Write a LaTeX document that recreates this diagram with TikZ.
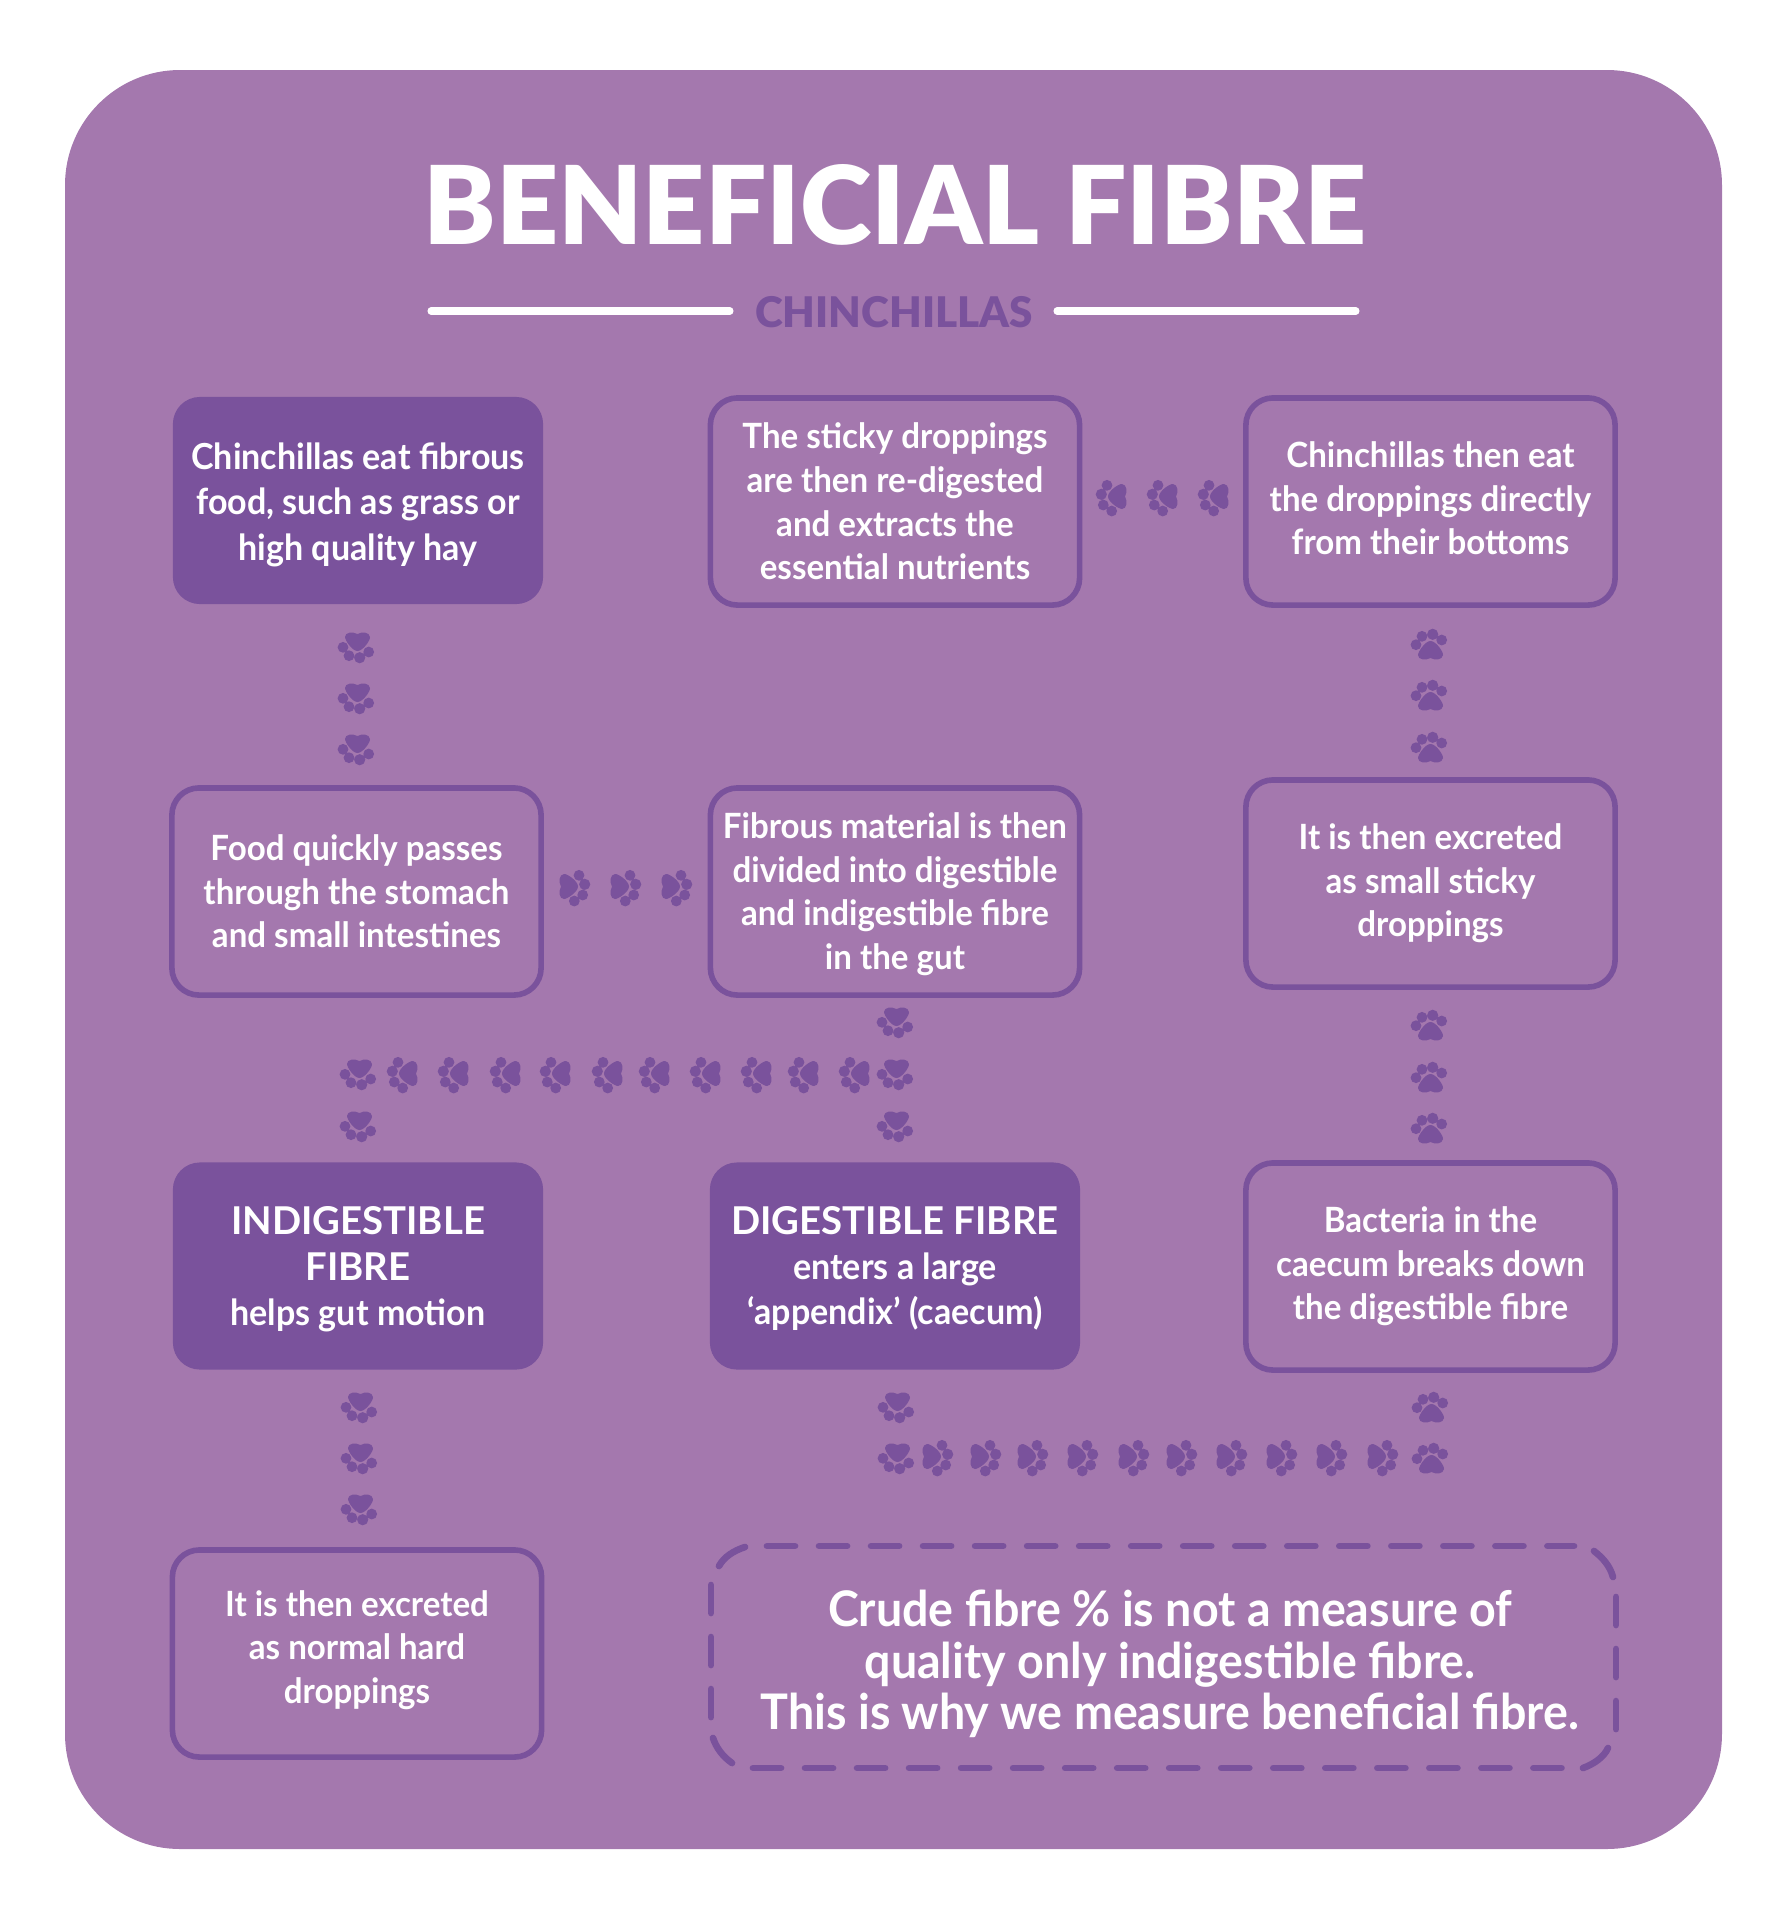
\documentclass[tikz,border=0pt]{standalone}
\usepackage{fontspec}
\setmainfont[FakeStretch=0.95]{Lato}
\newfontfamily\heavyfont{Lato Black}
\usetikzlibrary{calc}
\definecolor{panelpurple}{HTML}{A478AE}
\definecolor{darkpurple}{HTML}{7A529C}
\newcommand{\headsize}{\heavyfont\fontsize{10.9pt}{12.9pt}\selectfont}
\newcommand{\bodysize}{\normalfont\bfseries\fontsize{9.9pt}{12.4pt}\selectfont}
\newcommand{\solidsize}{\normalfont\bfseries\fontsize{10.2pt}{12.9pt}\selectfont}

\begin{document}
\begin{tikzpicture}[
    x=0.01cm, y=-0.01cm, % One unit is one pixel of the reference
    textbox/.style={rounded corners=0.27cm, minimum width=3.69cm, minimum height=2.07cm, inner sep=0pt},
    outlinebox/.style={textbox, draw=darkpurple, line width=1.6pt},
    solidbox/.style={textbox, fill=darkpurple, minimum width=3.70cm},
    outlinetext/.style={inner sep=0pt, align=center, text=white, font=\bodysize},
    solidtext/.style={inner sep=0pt, align=center, text=white, font=\solidsize},
    rulestyle/.style={white, line width=2pt, line cap=round},
    dashside/.style={darkpurple, line width=1.9pt, line cap=round, dash pattern=on 0.28cm off 0.24cm},
    dashcorner/.style={darkpurple, line width=1.9pt, line cap=round},
    paw/.pic={
        \fill[darkpurple] (-13,0.7) circle [radius=5.4] (-7,-7.7) circle [radius=5.4] (3.7,-9.7) circle [radius=5.6] (12.7,-4) circle [radius=5.4];
        \fill[darkpurple] (1.5,-3) .. controls (7,-3) and (14.5,8) .. (14,11) .. controls (13.5,16) and (6,16.5) .. (1.5,14) .. controls (-3,16.5) and (-11,16) .. (-11,11) .. controls (-11,8) and (-4,-3) .. (1.5,-3) -- cycle;
    }
]
\useasboundingbox (0,0) rectangle (1787,1920);

% Panel
\fill[panelpurple] (65,70) [rounded corners=1.15cm] rectangle (1722,1849);

% Title and subtitle
\node[text=white, font=\heavyfont\fontsize{30.9pt}{31pt}\selectfont, inner sep=0pt] (title) at (895,205) {BENEFICIAL FIBRE};
\node[text=darkpurple, font=\heavyfont\fontsize{12pt}{12pt}\selectfont, inner sep=0pt] (subtitle) at (894,312) {CHINCHILLAS};
\draw[rulestyle] (431,311) -- (730,311);
\draw[rulestyle] (1057,311) -- (1356,311);

% First row
\node[solidbox] (eat) at (358,500.5) {};
\node[solidtext] (eattext) at ($(eat)+(0,4.3)$) {Chinchillas eat fibrous\\food, such as grass or\\high quality hay};
\node[outlinebox] (redigest) at (895,501.5) {};
\node[outlinetext] (redigesttext) at (redigest) {The sticky droppings\\are then re-digested\\and extracts the\\essential nutrients};
\node[outlinebox] (bottoms) at (1430.5,501.5) {};
\node[outlinetext] (bottomstext) at ($(bottoms)+(0,-3)$) {Chinchillas then eat\\the droppings directly\\from their bottoms};

% Second row
\node[outlinebox] (stomach) at (356.5,891.5) {};
\node[outlinetext] (stomachtext) at (stomach) {Food quickly passes\\through the stomach\\and small intestines};
\node[outlinebox] (gut) at (895,891.5) {};
\node[outlinetext] (guttext) at ($(gut)+(0,2.5)$) {Fibrous material is then\\divided into digestible\\and indigestible fibre\\in the gut};
\node[outlinebox] (excreted) at (1430.5,883.5) {};
\node[outlinetext] (excretedtext) at (excreted) {It is then excreted\\as small sticky\\droppings};

% Third row
\node[solidbox] (indigestible) at (358,1266) {};
\node[solidtext] (indigestibletext) at ($(indigestible)+(0,3.5)$) {\headsize INDIGESTIBLE\\\headsize FIBRE\\\solidsize helps gut motion};
\node[solidbox] (digestible) at (895,1266) {};
\node[solidtext] (digestibletext) at ($(digestible)+(0,2.5)$) {\headsize DIGESTIBLE FIBRE\\\solidsize enters a large\\\solidsize ‘appendix’ (caecum)};
\node[outlinebox] (caecum) at (1430.5,1266.5) {};
\node[outlinetext] (caecumtext) at (caecum) {Bacteria in the\\caecum breaks down\\the digestible fibre};

% Last row
\node[outlinebox] (hard) at (357,1653.5) {};
\node[outlinetext] (hardtext) at ($(hard)+(0,-3.5)$) {It is then excreted\\as normal hard\\droppings};
\node[text=white, align=center, inner sep=0pt, font=\normalfont\bfseries\fontsize{13.95pt}{14.6pt}\selectfont] (crude) at (1170,1664) {Crude fibre \% is not a measure of\\quality only indigestible fibre.\\This is why we measure beneficial fibre.};

% Dashed frame round the note
\draw[dashside] (767,1546) -- (1574,1546);
\draw[dashside] (753,1768) -- (1562,1768);
\draw[dashside] (711,1585) -- (711,1720);
\draw[dashside] (1616,1597) -- (1616,1732);
\draw[dashcorner] (745,1547) .. controls (733,1551) and (724,1557) .. (719,1566);
\draw[dashcorner] (1594,1551) .. controls (1603,1558) and (1610,1566) .. (1613,1577);
\draw[dashcorner] (713,1738) .. controls (716,1747) and (722,1756) .. (732,1763);
\draw[dashcorner] (1608,1748) .. controls (1604,1757) and (1594,1764) .. (1583,1768);

% Paws going down
\foreach \x/\y in {356/648, 356/699, 356/750, 895/1023, 895/1075, 895/1127, 358/1075, 358/1127, 359/1408, 359/1459, 359/1510, 896/1408, 896/1459}
    \pic[yscale=-1] at (\x,\y) {paw};

% Paws going up
\foreach \x/\y in {1429/644, 1429/695, 1429/747, 1429/1025, 1429/1077, 1429/1128, 1430/1407, 1430/1458}
    \pic at (\x,\y) {paw};

% Paws going left
\foreach \x/\y in {1111/498, 1162/498, 1213/498, 402/1075, 453/1075, 505/1075, 555/1075, 607/1075, 654/1075, 705/1075, 756/1075, 803/1075, 854/1075}
    \pic[rotate=90] at (\x,\y) {paw};

% Paws going right
\foreach \x/\y in {575/888, 626/888, 677/888, 938/1458, 986/1458, 1033/1458, 1083/1458, 1134/1458, 1182/1458, 1232/1458, 1282/1458, 1332/1458, 1383/1458}
    \pic[xscale=-1, rotate=90] at (\x,\y) {paw};

\end{tikzpicture}
\end{document}
